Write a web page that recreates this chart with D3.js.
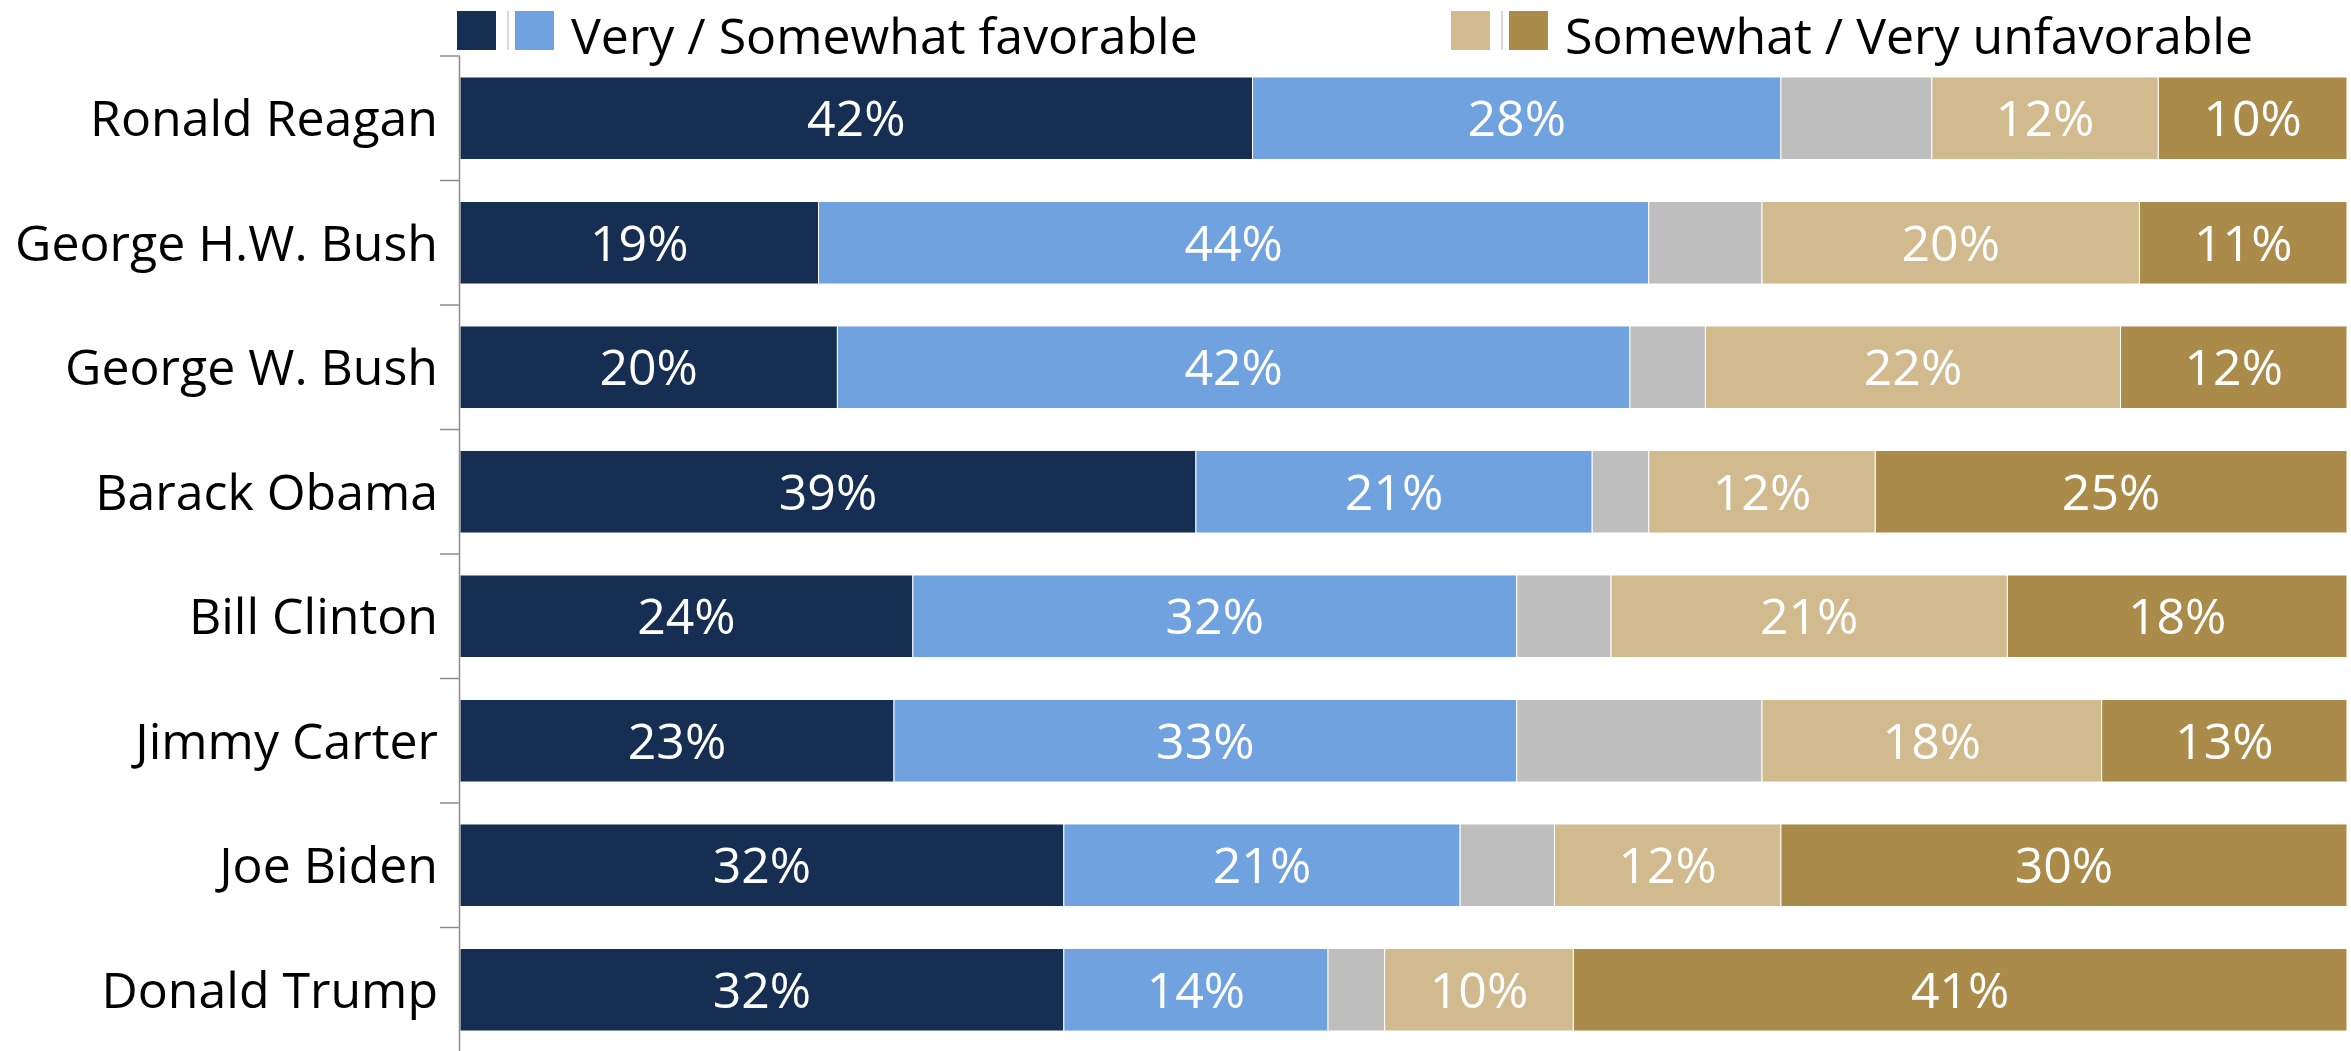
<!DOCTYPE html>
<html>
<head>
<meta charset="utf-8">
<script src="https://cdn.jsdelivr.net/npm/d3@7"></script>
<style>
html,body{margin:0;padding:0;background:#fff;}
svg{display:block;}
text{font-family:"Open Sans","Noto Sans",sans-serif;}
</style>
</head>
<body>
<svg id="chart" width="2351" height="1051"></svg>
<script>
const categories = ["Ronald Reagan","George H.W. Bush","George W. Bush","Barack Obama","Bill Clinton","Jimmy Carter","Joe Biden","Donald Trump"];
const veryFavorable       = [42,19,20,39,24,23,32,32];
const somewhatFavorable   = [28,44,42,21,32,33,21,14];
const neutral             = [8,6,4,3,5,13,5,3];
const somewhatUnfavorable = [12,20,22,12,21,18,12,10];
const veryUnfavorable     = [10,11,12,25,18,13,30,41];
const seriesKeys = ["vf","sf","nn","su","vu"];
const seriesLabelShown = [true,true,false,true,true];
const legendLabels = ["Very / Somewhat favorable","Somewhat / Very unfavorable"];

const colors = {vf:"#152e52", sf:"#6fa2de", nn:"#bebebe", su:"#d0ba8e", vu:"#ab8b4a"};

const rows = categories.map((c,i)=>({cat:c, vf:veryFavorable[i], sf:somewhatFavorable[i], nn:neutral[i], su:somewhatUnfavorable[i], vu:veryUnfavorable[i]}));
const stacked = d3.stack().keys(seriesKeys)(rows);

const svg = d3.select("#chart");
const FS = 50;

const x = d3.scaleLinear().domain([0,100]).range([460,2347]);
const y = d3.scaleBand().domain(categories).range([56,1052]).paddingInner(0.337).paddingOuter(0.1685);

// bars
const g = svg.append("g");
stacked.forEach((s,si)=>{
  const key = seriesKeys[si];
  g.selectAll(null).data(s).enter().append("rect")
    .attr("x", d=>x(d[0]))
    .attr("y", d=>y(d.data.cat))
    .attr("width", d=>x(d[1])-x(d[0]))
    .attr("height", y.bandwidth())
    .attr("fill", colors[key])
    .attr("stroke", "#ffffff")
    .attr("stroke-width", 1);
  if (seriesLabelShown[si]) {
    g.selectAll(null).data(s).enter().append("text")
      .attr("x", d=>(x(d[0])+x(d[1]))/2)
      .attr("y", d=>y(d.data.cat)+y.bandwidth()/2)
      .attr("dy","0.36em")
      .attr("text-anchor","middle")
      .attr("fill","#ffffff")
      .attr("font-size",FS)
      .text(d=>(d[1]-d[0])+"%");
  }
});

// axis
const axisG = svg.append("g").attr("transform",`translate(${x(0)},0)`)
  .call(d3.axisLeft(y).tickSize(0).tickPadding(22));
axisG.select(".domain").remove();
axisG.selectAll("text").attr("font-size",FS).attr("fill","#000").attr("dy","0.36em")
  .style("font-family",'"Open Sans","Noto Sans",sans-serif');
const step = y.step();
const bounds = categories.map(c=>y(c)-step*y.paddingInner()/2);
bounds.push(bounds[bounds.length-1]+step);
svg.append("line").attr("x1",x(0)-0.5).attr("x2",x(0)-0.5).attr("y1",bounds[0]).attr("y2",1051)
  .attr("stroke","#8c8c8c").attr("stroke-width",1.5);
svg.selectAll(null).data(bounds).enter().append("line")
  .attr("x1",x(0)-20).attr("x2",x(0)).attr("y1",d=>d).attr("y2",d=>d)
  .attr("stroke","#8c8c8c").attr("stroke-width",1.5);

// legend
const leg = svg.append("g");
function legendGroup(x0, c1, c2, label){
  leg.append("rect").attr("x",x0).attr("y",11).attr("width",39).attr("height",39).attr("fill",c1);
  leg.append("rect").attr("x",x0+50).attr("y",11).attr("width",2).attr("height",39).attr("fill","#d9d9d9");
  leg.append("rect").attr("x",x0+58).attr("y",11).attr("width",39).attr("height",39).attr("fill",c2);
  leg.append("text").attr("x",x0+114).attr("y",54).attr("font-size",FS).attr("fill","#000").text(label);
}
legendGroup(457, colors.vf, colors.sf, legendLabels[0]);
legendGroup(1451, colors.su, colors.vu, legendLabels[1]);
</script>
</body>
</html>
